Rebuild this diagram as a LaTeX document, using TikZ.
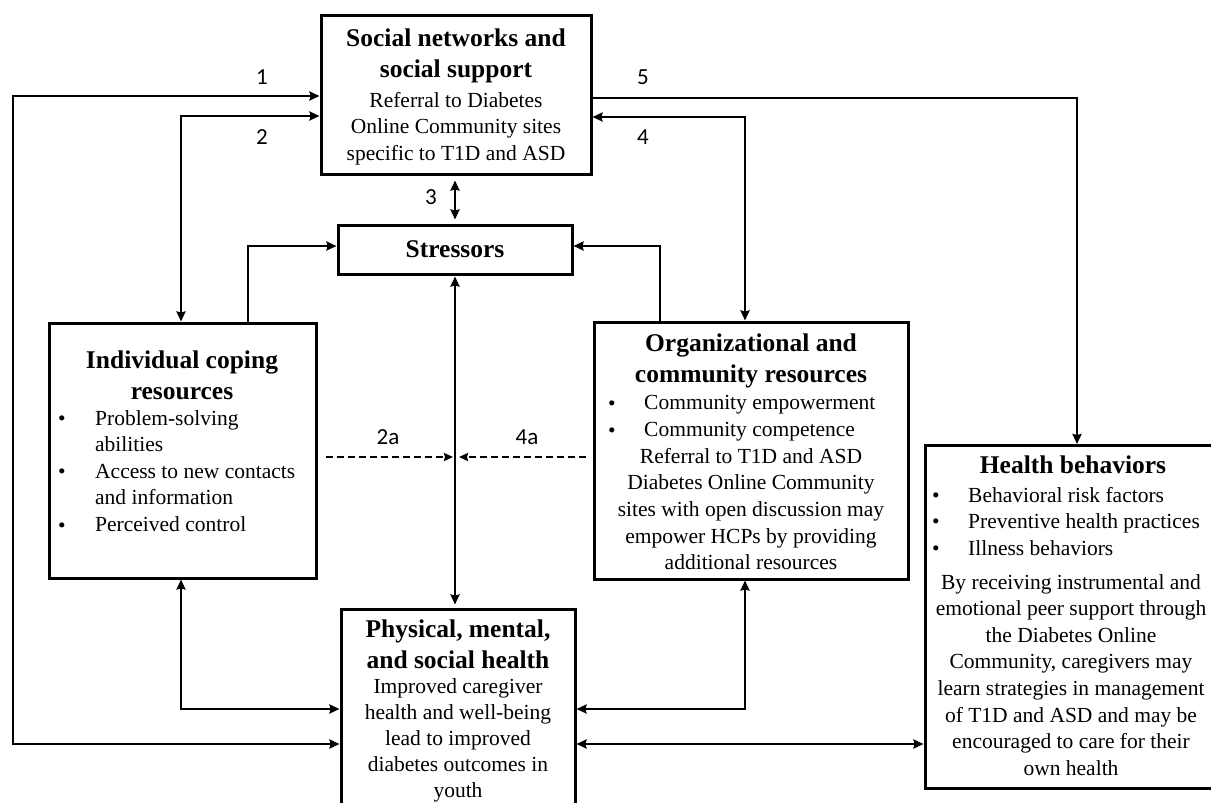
\documentclass[tikz,border=0pt]{standalone}
\usepackage{fontspec}
\setmainfont{Liberation Serif}
\newfontfamily\lblfont{Carlito}
\usetikzlibrary{arrows.meta}
\tikzset{
  box/.style={draw, line width=3pt, rectangle, inner sep=0pt},
  conn/.style={line width=2.7pt, -{Stealth[length=10pt,width=9pt,inset=1pt]}},
  conn2/.style={line width=2.7pt, {Stealth[length=10pt,width=9pt,inset=1pt]}-{Stealth[length=10pt,width=9pt,inset=1pt]}},
  dconn/.style={line width=2.3pt, dash pattern=on 7pt off 4pt, -{Stealth[length=9pt,width=8pt,inset=1pt]}},
  head/.style={font=\fontsize{25.5}{31}\selectfont\bfseries, align=center, inner sep=0pt, anchor=north},
  body/.style={font=\fontsize{21.5}{26.6}\selectfont, align=center, inner sep=0pt, anchor=north},
  bodyl/.style={font=\fontsize{21.5}{26.6}\selectfont, align=left, inner sep=0pt, anchor=north west},
  bul/.style={font=\fontsize{21.5}{26.6}\selectfont, inner sep=0pt, anchor=base},
  lbl/.style={font=\lblfont\fontsize{23}{26}\selectfont, inner sep=0pt}
}
\begin{document}
\begin{tikzpicture}[x=1pt,y=-1pt]
\useasboundingbox (0,0) rectangle (1211,803);
\fill[white] (0,0) rectangle (1211,803);

% boxes
\node[box, minimum width=270pt, minimum height=159pt] (soc) at (456,94.5) {};
\node[box, minimum width=234pt, minimum height=49pt, font=\fontsize{25.5}{31}\selectfont\bfseries] (str) at (455,249.5) {Stressors};
\node[box, minimum width=267pt, minimum height=255pt] (ind) at (182.5,450.5) {};
\node[box, minimum width=314pt, minimum height=257pt] (org) at (751,450.5) {};
\node[box, minimum width=300pt, minimum height=343pt] (hb) at (1075,617) {};
\node[box, minimum width=234pt, minimum height=215pt] (phy) at (458,716.5) {};

% texts: social
\node[head] (socH) at (456,29) {Social networks and\\social support};
\node[body] (socB) at (456,92) {Referral to Diabetes\\Online Community sites\\specific to T1D and ASD};

% individual
\node[head] (indH) at (182,351) {Individual coping\\resources};
\node[bodyl] (indB) at (95,410) {Problem-solving\\abilities\\Access to new contacts\\and information\\Perceived control};
\node[bul] (ib1) at (62,425) {\textbullet};
\node[bul] (ib2) at (62,478) {\textbullet};
\node[bul] (ib3) at (62,532) {\textbullet};

% organizational
\node[head] (orgH) at (751,334) {Organizational and\\community resources};
\node[bodyl] (orgL) at (644,395) {Community empowerment\\Community competence};
\node[bul] (ob1) at (612,410) {\textbullet};
\node[bul] (ob2) at (612,437) {\textbullet};
\node[body] (orgB) at (751,448) {Referral to T1D and ASD\\Diabetes Online Community\\sites with open discussion may\\empower HCPs by providing\\additional resources};

% health behaviors
\node[head] (hbH) at (1073,456) {Health behaviors};
\node[bodyl] (hbL) at (968,487) {Behavioral risk factors\\Preventive health practices\\Illness behaviors};
\node[bul] (hb1) at (936,502) {\textbullet};
\node[bul] (hb2) at (936,528) {\textbullet};
\node[bul] (hb3) at (936,555) {\textbullet};
\node[body] (hbB) at (1071,574) {By receiving instrumental and\\emotional peer support through\\the Diabetes Online\\Community, caregivers may\\learn strategies in management\\of T1D and ASD and may be\\encouraged to care for their\\own health};

% physical
\node[head] (phyH) at (458,620) {Physical, mental,\\and social health};
\node[body, font=\fontsize{21.5}{26.2}\selectfont] (phyB) at (458,678) {Improved caregiver\\health and well-being\\lead to improved\\diabetes outcomes in\\youth};

% helper coordinates
\coordinate (xL) at (13,0);
\coordinate (x2) at (181,0);
\coordinate (xs) at (248,0);
\coordinate (xc) at (455,0);
\coordinate (xr) at (660,0);
\coordinate (x4) at (745,0);
\coordinate (x5) at (1077,0);
\coordinate (y96) at (0,96);
\coordinate (y98) at (0,98);
\coordinate (y116) at (0,116);
\coordinate (y117) at (0,117);
\coordinate (y246) at (0,246);
\coordinate (y457) at (0,457);
\coordinate (y709) at (0,709);
\coordinate (y744) at (0,744);

% connectors
\draw[conn2] (soc.west |- y96) -- (xL |- y96) -- (xL |- y744) -- (phy.west |- y744);
\draw[conn2] (soc.west |- y116) -| (ind.north -| x2);
\draw[conn2] (soc.east |- y117) -| (org.north -| x4);
\draw[conn] (soc.east |- y98) -| (hb.north -| x5);
\draw[conn2, shorten <=5pt, shorten >=4pt] (soc.south -| xc) -- (str.north -| xc);
\draw[conn] (ind.north -| xs) |- (str.west |- y246);
\draw[conn] (org.north -| xr) |- (str.east |- y246);
\draw[conn2, shorten <=1pt, shorten >=3pt] (str.south -| xc) -- (phy.north -| xc);
\draw[dconn, shorten <=8pt, shorten >=2pt] (ind.east |- y457) -- (xc |- y457);
\draw[dconn, shorten <=7pt, shorten >=4pt] (org.west |- y457) -- (xc |- y457);
\draw[conn2] (ind.south -| x2) |- (phy.west |- y709);
\draw[conn2] (org.south -| x4) |- (phy.east |- y709);
\draw[conn2] (phy.east |- y744) -- (hb.west |- y744);

% labels
\node[lbl] (l1) at (262,77) {1};
\node[lbl] (l2) at (262,137) {2};
\node[lbl] (l5) at (643,77) {5};
\node[lbl] (l4) at (643,137) {4};
\node[lbl] (l3) at (431,197) {3};
\node[lbl] (l2a) at (388,437) {2a};
\node[lbl] (l4a) at (527,437) {4a};
\end{tikzpicture}
\end{document}
